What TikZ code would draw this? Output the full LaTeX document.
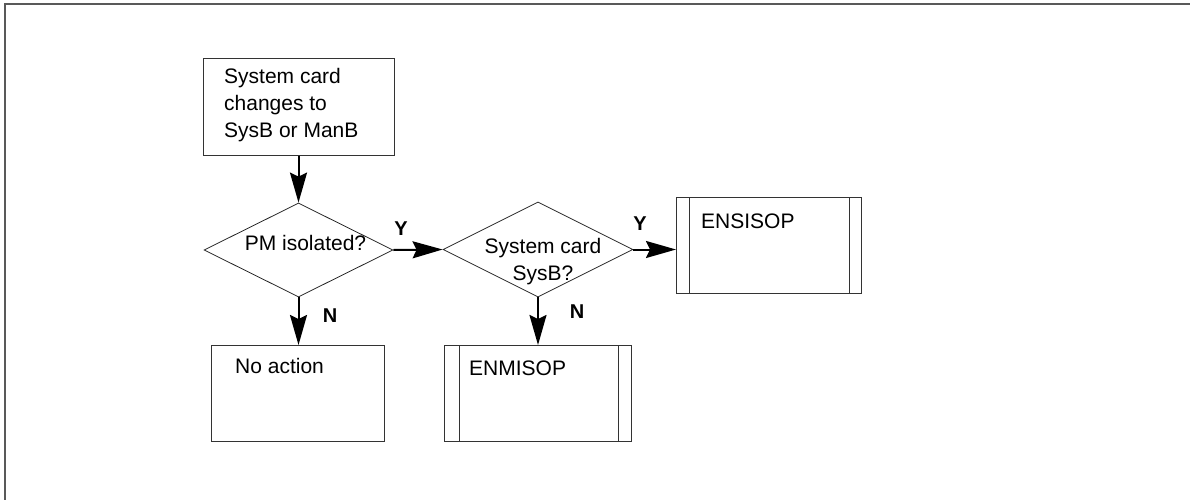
\documentclass[tikz,border=0pt]{standalone}
\usepackage{fontspec}
\setmainfont{Liberation Sans}
\usetikzlibrary{shapes.geometric,arrows.meta}
\begin{document}
\begin{tikzpicture}[x=1pt,y=-1pt,
  box/.style={draw=black!80, line width=0.9pt, inner sep=0pt, anchor=north west},
  dia/.style={diamond, draw=black!85, line width=0.8pt, inner sep=0pt},
  txt/.style={inner sep=0pt, font=\fontsize{21}{27}\selectfont},
  lab/.style={inner sep=0pt, font=\fontsize{20}{24}\selectfont\bfseries, anchor=base},
  flow/.style={line width=2pt, -{Stealth[length=30pt,width=17pt,inset=4pt]}},
  sub/.style={draw=black!80, line width=0.9pt}
]
\useasboundingbox (0,0) rectangle (1190,500);
\draw[black!65, line width=2pt] (5,500) |- (1190,4);

% start box
\node[box, minimum width=191, minimum height=97] (start) at (203,58) {};
\node[txt, anchor=north west, align=left] (starttxt) at (224,68) {System card\\changes to\\SysB or ManB};

% decision 1
\node[dia, minimum width=189, minimum height=94] (d1) at (298.5,250) {};
\node[txt, anchor=base] (d1txt) at (305.5,250) {PM isolated?};

% no action
\node[box, minimum width=173, minimum height=96] (noact) at (211,345) {};
\node[txt, anchor=base west] (noacttxt) at (235,373) {No action};

% decision 2
\node[dia, minimum width=190, minimum height=95] (d2) at (538,249.5) {};
\node[txt, anchor=north, align=center] (d2txt) at (543,238) {System card\\SysB?};

% ENSISOP
\node[box, minimum width=185, minimum height=96] (ensi) at (676,197) {};
\draw[sub] ([xshift=13pt]ensi.north west) -- ([xshift=13pt]ensi.south west);
\draw[sub] ([xshift=-12pt]ensi.north east) -- ([xshift=-12pt]ensi.south east);
\node[txt, anchor=base west] (ensitxt) at (701,228) {ENSISOP};

% ENMISOP
\node[box, minimum width=187, minimum height=96] (enmi) at (444,345) {};
\draw[sub] ([xshift=15pt]enmi.north west) -- ([xshift=15pt]enmi.south west);
\draw[sub] ([xshift=-13pt]enmi.north east) -- ([xshift=-13pt]enmi.south east);
\node[txt, anchor=base west] (enmitxt) at (469,375) {ENMISOP};

% connectors
\draw[flow] (start.south -| d1.north) -- (d1.north);
\draw[flow] (d1.east) -- (d2.west);
\draw[flow] (d1.south) -- (d1.south |- noact.north);
\draw[flow] (d2.east) -- (d2.east -| ensi.west);
\draw[flow] (d2.south) -- (d2.south |- enmi.north);

% labels
\node[lab] (y1) at (401,235) {Y};
\node[lab] (n1) at (330,322) {N};
\node[lab] (y2) at (640,230) {Y};
\node[lab] (n2) at (577,318) {N};
\end{tikzpicture}
\end{document}
